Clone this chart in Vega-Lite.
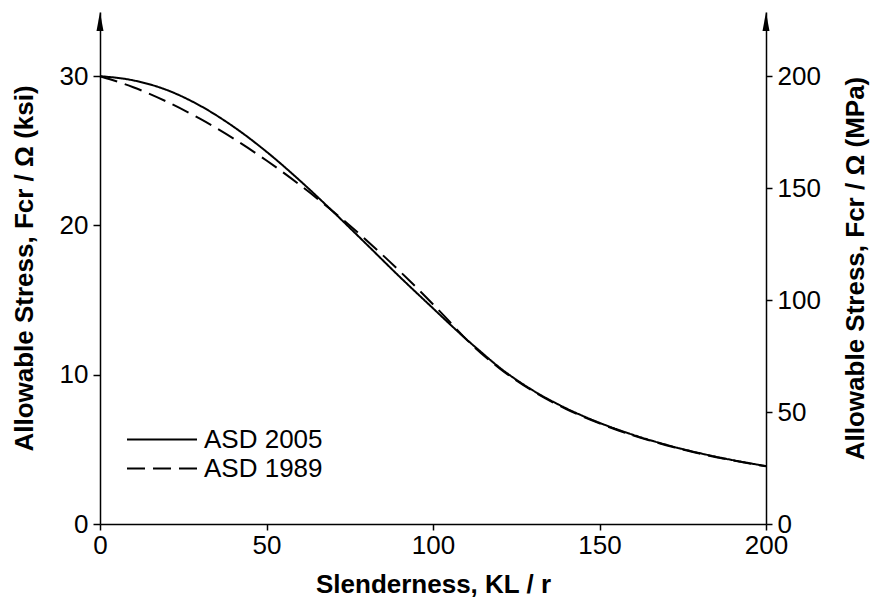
{
  "$schema": "https://vega.github.io/schema/vega-lite/v6.json",
  "autosize": "none",
  "width": 666,
  "height": 512,
  "padding": {"left": 100, "top": 12, "right": 106, "bottom": 81},
  "background": "white",
  "config": {
    "view": {"stroke": null},
    "font": "Liberation Sans",
    "axis": {
      "grid": false,
      "domainColor": "black",
      "domainWidth": 1.5,
      "tickColor": "black",
      "tickWidth": 1.5,
      "labelColor": "black",
      "labelFont": "Liberation Sans",
      "labelFontSize": 26,
      "titleFont": "Liberation Sans",
      "titleFontSize": 26,
      "titleFontWeight": "bold",
      "titleColor": "black",
      "labelFlush": false,
      "labelOverlap": false
    },
    "legend": {
      "labelFont": "Liberation Sans",
      "labelFontSize": 26,
      "labelColor": "black"
    }
  },
  "datasets": {
    "curves": [
      {"kl": 0, "fa": 30.0, "spec": "ASD 2005"},
      {"kl": 10, "fa": 29.72, "spec": "ASD 2005"},
      {"kl": 20, "fa": 29.08, "spec": "ASD 2005"},
      {"kl": 30, "fa": 28.03, "spec": "ASD 2005"},
      {"kl": 40, "fa": 26.63, "spec": "ASD 2005"},
      {"kl": 50, "fa": 24.94, "spec": "ASD 2005"},
      {"kl": 60, "fa": 23.01, "spec": "ASD 2005"},
      {"kl": 70, "fa": 20.92, "spec": "ASD 2005"},
      {"kl": 80, "fa": 18.75, "spec": "ASD 2005"},
      {"kl": 90, "fa": 16.56, "spec": "ASD 2005"},
      {"kl": 100, "fa": 14.45, "spec": "ASD 2005"},
      {"kl": 105, "fa": 13.4, "spec": "ASD 2005"},
      {"kl": 110, "fa": 12.38, "spec": "ASD 2005"},
      {"kl": 113.4, "fa": 11.72, "spec": "ASD 2005"},
      {"kl": 120, "fa": 10.48, "spec": "ASD 2005"},
      {"kl": 130, "fa": 8.95, "spec": "ASD 2005"},
      {"kl": 140, "fa": 7.75, "spec": "ASD 2005"},
      {"kl": 150, "fa": 6.78, "spec": "ASD 2005"},
      {"kl": 160, "fa": 5.98, "spec": "ASD 2005"},
      {"kl": 170, "fa": 5.31, "spec": "ASD 2005"},
      {"kl": 180, "fa": 4.75, "spec": "ASD 2005"},
      {"kl": 190, "fa": 4.28, "spec": "ASD 2005"},
      {"kl": 200, "fa": 3.88, "spec": "ASD 2005"},
      {"kl": 0, "fa": 30.0, "spec": "ASD 1989"},
      {"kl": 10, "fa": 29.26, "spec": "ASD 1989"},
      {"kl": 20, "fa": 28.3, "spec": "ASD 1989"},
      {"kl": 30, "fa": 27.15, "spec": "ASD 1989"},
      {"kl": 40, "fa": 25.83, "spec": "ASD 1989"},
      {"kl": 50, "fa": 24.35, "spec": "ASD 1989"},
      {"kl": 60, "fa": 22.72, "spec": "ASD 1989"},
      {"kl": 70, "fa": 20.94, "spec": "ASD 1989"},
      {"kl": 80, "fa": 19.01, "spec": "ASD 1989"},
      {"kl": 90, "fa": 16.94, "spec": "ASD 1989"},
      {"kl": 100, "fa": 14.72, "spec": "ASD 1989"},
      {"kl": 105, "fa": 13.55, "spec": "ASD 1989"},
      {"kl": 107, "fa": 13.06, "spec": "ASD 1989"},
      {"kl": 110, "fa": 12.37, "spec": "ASD 1989"},
      {"kl": 120, "fa": 10.42, "spec": "ASD 1989"},
      {"kl": 130, "fa": 8.9, "spec": "ASD 1989"},
      {"kl": 140, "fa": 7.7, "spec": "ASD 1989"},
      {"kl": 150, "fa": 6.74, "spec": "ASD 1989"},
      {"kl": 160, "fa": 5.94, "spec": "ASD 1989"},
      {"kl": 170, "fa": 5.28, "spec": "ASD 1989"},
      {"kl": 180, "fa": 4.72, "spec": "ASD 1989"},
      {"kl": 190, "fa": 4.26, "spec": "ASD 1989"},
      {"kl": 200, "fa": 3.86, "spec": "ASD 1989"}
    ]
  },
  "layer": [
    {
      "data": {"name": "curves"},
      "mark": {"type": "line", "interpolate": "monotone", "color": "black", "strokeWidth": 2},
      "encoding": {
        "x": {
          "field": "kl", "type": "quantitative",
          "scale": {"domain": [0, 200], "nice": false},
          "axis": {"values": [0, 50, 100, 150, 200], "tickSize": 6, "labelPadding": 2, "title": "Slenderness, KL / r", "titlePadding": 13}
        },
        "y": {
          "field": "fa", "type": "quantitative",
          "scale": {"domain": [0, 34.3], "nice": false},
          "axis": {"values": [0, 10, 20, 30], "tickSize": 7, "labelPadding": 5, "title": "Allowable Stress, Fcr / Ω (ksi)", "titlePadding": 22}
        },
        "strokeDash": {
          "field": "spec", "type": "nominal",
          "scale": {"domain": ["ASD 2005", "ASD 1989"], "range": [[1, 0], [18, 8]]},
          "legend": {
            "title": null,
            "orient": "none",
            "legendX": 26,
            "legendY": 414,
            "symbolType": "stroke",
            "symbolSize": 4900,
            "symbolStrokeWidth": 2,
            "symbolStrokeColor": "black",
            "labelOffset": 6,
            "clipHeight": 27,
            "rowPadding": 2,
            "padding": 0
          }
        }
      }
    },
    {
      "data": {"values": [{}]},
      "mark": {"type": "point", "shape": "M0,0L0.35,1.9L-0.35,1.9Z", "filled": true, "color": "black", "size": 400, "opacity": 1},
      "encoding": {
        "x": {"datum": 0, "type": "quantitative"},
        "y": {"datum": 34.3, "type": "quantitative", "scale": {"domain": [0, 34.3], "nice": false}, "axis": null}
      }
    },
    {
      "data": {"values": [{}]},
      "mark": {"type": "point", "shape": "M0,0L0.35,1.9L-0.35,1.9Z", "filled": true, "color": "black", "size": 400, "opacity": 1},
      "encoding": {
        "x": {"datum": 200, "type": "quantitative"},
        "y": {"datum": 34.3, "type": "quantitative", "scale": {"domain": [0, 34.3], "nice": false}, "axis": null}
      }
    },
    {
      "data": {"values": [{}]},
      "mark": {"type": "point", "opacity": 0},
      "encoding": {
        "x": {"datum": 0, "type": "quantitative"},
        "y": {
          "datum": 0, "type": "quantitative",
          "scale": {"domain": [0, 228.67], "nice": false},
          "axis": {"orient": "right", "values": [0, 50, 100, 150, 200], "tickSize": 6, "labelPadding": 5, "title": "Allowable Stress, Fcr / Ω (MPa)", "titlePadding": 22, "titleAngle": 270, "titleBaseline": "top"}
        }
      }
    }
  ],
  "resolve": {"scale": {"y": "independent"}}
}
